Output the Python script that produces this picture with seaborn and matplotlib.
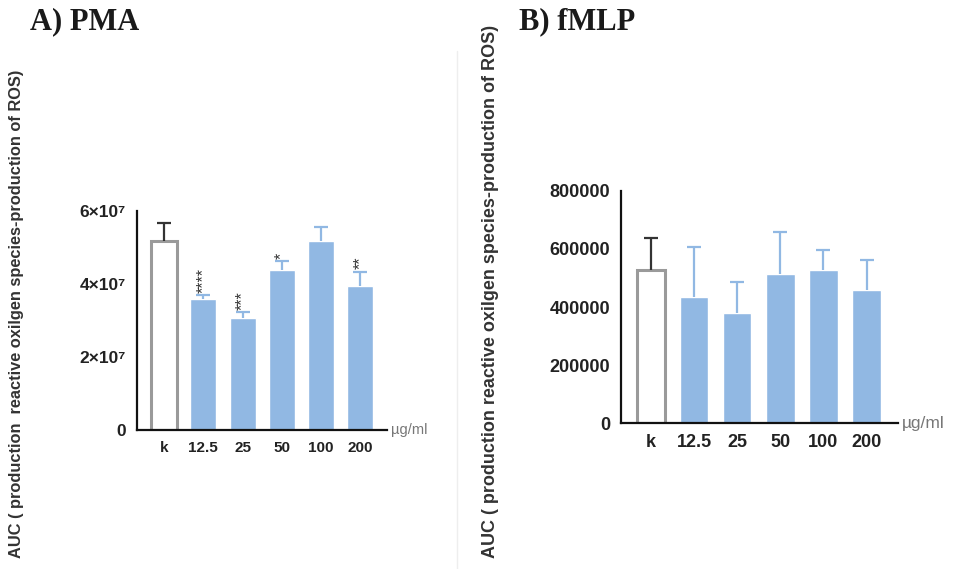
import numpy as np
import pandas as pd
import matplotlib
matplotlib.use("Agg")
import matplotlib.pyplot as plt
import seaborn as sns
from matplotlib.lines import Line2D

# Data
doses = ["k", "12.5", "25", "50", "100", "200"]

pma_mean = [5.17e7, 3.58e7, 3.06e7, 4.38e7, 5.18e7, 3.95e7]
pma_upper = [5.68e7, 3.70e7, 3.24e7, 4.62e7, 5.55e7, 4.34e7]
pma_stars = ["", "****", "***", "*", "", "**"]

fmlp_mean = [5.27e5, 4.35e5, 3.78e5, 5.13e5, 5.27e5, 4.58e5]
fmlp_upper = [6.38e5, 6.07e5, 4.87e5, 6.59e5, 5.96e5, 5.62e5]

pma_ticks = [0, 2e7, 4e7, 6e7]
pma_tick_labels = ["0", "2×10⁷", "4×10⁷", "6×10⁷"]
fmlp_ticks = [0, 2e5, 4e5, 6e5, 8e5]
fmlp_tick_labels = ["0", "200000", "400000", "600000", "800000"]

BLUE = "#91b8e3"
GREY = "#9a9a9a"
FONT = ["Liberation Sans", "DejaVu Sans"]


def draw_panel(ax, means, uppers, ticks, tick_labels, ymax, fs, yfs, xlim):
    df = pd.DataFrame({"dose": doses, "value": means})
    sns.barplot(data=df, x="dose", y="value", hue="dose",
                palette=[BLUE] * len(doses), legend=False,
                width=0.66, ax=ax, saturation=1)
    # control bar is hollow
    k = ax.patches[0]
    k.set_facecolor("white")
    k.set_edgecolor(GREY)
    k.set_linewidth(2.2)

    x = np.arange(len(doses))
    err = np.array(uppers) - np.array(means)
    for i in range(len(doses)):
        col = "#333333" if i == 0 else BLUE
        _, caps, _ = ax.errorbar(x[i], means[i], yerr=[[0], [err[i]]],
                                 fmt="none", ecolor=col, elinewidth=1.6,
                                 capsize=5, capthick=1.6, zorder=1)
        caps[0].set_visible(False)  # only the upper cap

    ax.set_xlim(*xlim)
    ax.set_ylim(0, ymax)
    ax.set_yticks(ticks)
    ax.set_yticklabels(tick_labels)
    ax.set_xlabel("")
    ax.set_ylabel("")
    sns.despine(ax=ax)
    for s in ["left", "bottom"]:
        ax.spines[s].set_linewidth(1.6)
        ax.spines[s].set_color("#111111")
    ax.tick_params(axis="both", width=1.5, length=5, color="#111111", pad=3)
    ax.tick_params(axis="x", labelsize=fs)
    ax.tick_params(axis="y", labelsize=yfs)
    for lab in ax.get_xticklabels() + ax.get_yticklabels():
        lab.set_fontweight("bold")
        lab.set_family(FONT)
        lab.set_color("#222222")
    ax.text(1.015, 0, "µg/ml", transform=ax.transAxes, ha="left",
            va="center", fontsize=fs - 0.5, color="#777777", family=FONT)


sns.set_style("white")
plt.rcParams["font.family"] = FONT

fig = plt.figure(figsize=(9.65, 5.69), dpi=100)
ax1 = fig.add_axes([0.142, 0.2443, 0.259, 0.385])
ax2 = fig.add_axes([0.644, 0.256, 0.2863, 0.4088])

draw_panel(ax1, pma_mean, pma_upper, pma_ticks, pma_tick_labels, 6e7, 11, 12.5,
           (-0.69, 5.68))
draw_panel(ax2, fmlp_mean, fmlp_upper, fmlp_ticks, fmlp_tick_labels, 8e5, 13, 13,
           (-0.68, 5.72))

# significance marks, stacked vertically above the error bars
for i, s in enumerate(pma_stars):
    if s:
        ax1.text(i, pma_upper[i] + 0.06e7, s, rotation=90, ha="center",
                 va="bottom", fontsize=11.5, color="#333333")

fig.text(0.031, 0.962, "A) PMA", fontsize=22, fontweight="bold",
         family=["Liberation Serif", "DejaVu Serif"], color="#1a1a1a",
         ha="left", va="center")
fig.text(0.538, 0.962, "B) fMLP", fontsize=22, fontweight="bold",
         family=["Liberation Serif", "DejaVu Serif"], color="#1a1a1a",
         ha="left", va="center")

fig.text(0.017, 0.449, "AUC ( production  reactive oxilgen species-production of ROS)",
         rotation=90, ha="center", va="center", fontsize=11.8,
         fontweight="bold", color="#333333")
fig.text(0.508, 0.487, "AUC ( production reactive oxilgen species-production of ROS)",
         rotation=90, ha="center", va="center", fontsize=13,
         fontweight="bold", color="#333333")

# faint edge of the second panel image
fig.add_artist(Line2D([0.474, 0.474], [0.0, 0.91], color="#eeeeee", lw=1))

fig.savefig("out.png", dpi=100)
